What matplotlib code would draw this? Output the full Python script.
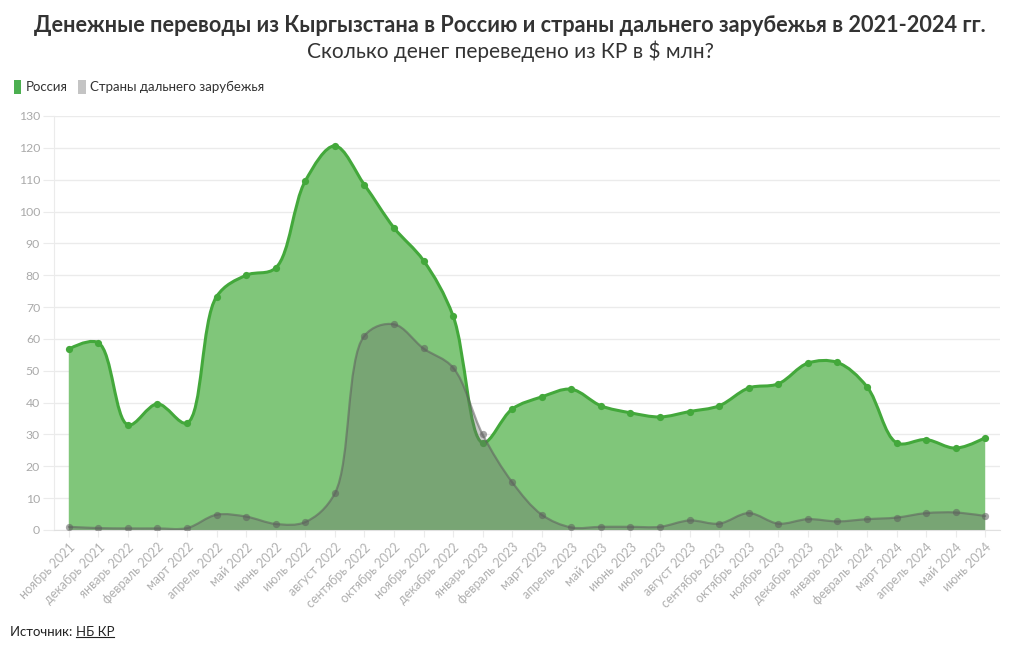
import numpy as np
import matplotlib.pyplot as plt
from matplotlib.path import Path
from matplotlib.patches import PathPatch, Patch
from matplotlib.lines import Line2D

plt.rcParams['font.family'] = ['Lato', 'DejaVu Sans']

# данные
months = ['ноябрь 2021', 'декабрь 2021', 'январь 2022', 'февраль 2022', 'март 2022',
          'апрель 2022', 'май 2022', 'июнь 2022', 'июль 2022', 'август 2022',
          'сентябрь 2022', 'октябрь 2022', 'ноябрь 2022', 'декабрь 2022', 'январь 2023',
          'февраль 2023', 'март 2023', 'апрель 2023', 'май 2023', 'июнь 2023',
          'июль 2023', 'август 2023', 'сентябрь 2023', 'октябрь 2023', 'ноябрь 2023',
          'декабрь 2023', 'январь 2024', 'февраль 2024', 'март 2024', 'апрель 2024',
          'май 2024', 'июнь 2024']
russia = [56.8, 58.8, 33.0, 39.6, 33.6, 73.3, 80.0, 82.3, 109.6, 120.6,
          108.4, 94.9, 84.6, 67.2, 27.4, 38.0, 41.8, 44.2, 39.0, 36.8,
          35.5, 37.2, 39.0, 44.6, 45.9, 52.4, 52.6, 45.0, 27.4, 28.4,
          25.7, 29.0]
far_abroad = [1.0, 0.6, 0.5, 0.5, 0.6, 4.8, 4.2, 1.9, 2.5, 11.5,
              61.0, 64.6, 57.0, 51.0, 30.0, 15.0, 4.8, 0.8, 1.0, 1.0,
              1.0, 3.0, 2.0, 5.3, 2.0, 3.4, 2.7, 3.4, 3.9, 5.3,
              5.5, 4.4]


def spline_verts(ax, xs, ys, smoothness=1.0):
    # сглаживание как у plotly (spline), считается в пикселях
    pts = ax.transData.transform(np.column_stack([xs, ys]))
    n = len(pts)
    tangents = []
    for i in range(1, n - 1):
        d1 = pts[i - 1] - pts[i]
        d2 = pts[i + 1] - pts[i]
        d1a = np.hypot(*d1) ** 0.5
        d2a = np.hypot(*d2) ** 0.5
        num = (d2a ** 2 * d1 - d1a ** 2 * d2) * smoothness
        den1 = 3 * d2a * (d1a + d2a)
        den2 = 3 * d1a * (d1a + d2a)
        tangents.append((pts[i] + num / den1, pts[i] - num / den2))
    verts = [pts[0], tangents[0][0], pts[1]]
    codes = [Path.MOVETO, Path.CURVE3, Path.CURVE3]
    for i in range(2, n - 1):
        verts += [tangents[i - 2][1], tangents[i - 1][0], pts[i]]
        codes += [Path.CURVE4] * 3
    verts += [tangents[n - 3][1], pts[-1]]
    codes += [Path.CURVE3] * 2
    verts = ax.transData.inverted().transform(np.array(verts))
    return list(map(tuple, verts)), codes


def draw_area(ax, xs, ys, line_color, fill_color, fill_alpha, line_alpha, lw, z):
    verts, codes = spline_verts(ax, xs, ys)
    fill_verts = verts + [(xs[-1], 0), (xs[0], 0), (xs[0], 0)]
    fill_codes = codes + [Path.LINETO, Path.LINETO, Path.CLOSEPOLY]
    ax.add_patch(PathPatch(Path(fill_verts, fill_codes), facecolor=fill_color,
                           alpha=fill_alpha, edgecolor='none', zorder=z))
    ax.add_patch(PathPatch(Path(verts, codes), facecolor='none', edgecolor=line_color,
                           alpha=line_alpha, lw=lw, zorder=z + 0.1,
                           capstyle='round', joinstyle='round'))
    ax.plot(xs, ys, 'o', color=line_color, alpha=line_alpha, ms=5.2,
            mec='none', zorder=z + 0.2)


fig = plt.figure(figsize=(10.2, 6.5), dpi=100)
ax = fig.add_axes([54 / 1020, 120 / 650, 946 / 1020, 414 / 650])
x = np.arange(len(months))
ax.set_xlim(-0.5, len(months) - 0.5)
ax.set_ylim(0, 130)

draw_area(ax, x, russia, '#43a83b', '#80c67a', 1.0, 1.0, 2.2, 2)
draw_area(ax, x, far_abroad, '#5e5e5e', '#6b6b6b', 0.36, 0.55, 1.6, 3)

# оси и сетка
ax.set_yticks(np.arange(0, 131, 10))
ax.grid(axis='y', color='#ebebeb', lw=1)
ax.set_axisbelow(True)
for s in ['top', 'right']:
    ax.spines[s].set_visible(False)
ax.spines['left'].set_color('#ebebeb')
ax.spines['bottom'].set_color('#e0e0e0')
ax.tick_params(axis='y', length=8, color='#ebebeb', labelcolor='#aaaaaa',
               labelsize=8.8, pad=2)
ax.tick_params(axis='x', length=5, color='#ebebeb', labelcolor='#b0b0b0',
               labelsize=9.0, pad=3)
ax.set_xticks(x)
ax.set_xticklabels(months, rotation=45, ha='right', va='top', rotation_mode='anchor')

# заголовки
fig.text(0.5, 1 - 25 / 650, 'Денежные переводы из Кыргызстана в Россию и страны дальнего зарубежья в 2021-2024 гг.',
         ha='center', va='center', fontsize=15.6, fontweight='bold', color='#333333')
fig.text(0.5, 1 - 51 / 650, 'Сколько денег переведено из КР в $ млн?',
         ha='center', va='center', fontsize=15, color='#333333')

handles = [Patch(facecolor='#4caf50', edgecolor='none'),
           Patch(facecolor='#c4c4c4', edgecolor='none')]
fig.legend(handles, ['Россия', 'Страны дальнего зарубежья'], loc='center left',
           bbox_to_anchor=(0.002, 1 - 87 / 650), ncol=2, frameon=False,
           fontsize=9.5, handlelength=0.55, handleheight=1.2, handletextpad=0.35,
           columnspacing=0.8, labelcolor='#333333')

# источник
t1 = fig.text(10 / 1020, 1 - 632 / 650, 'Источник: ', ha='left', va='center',
              fontsize=9.5, color='#222222')
renderer = fig.canvas.get_renderer()
bb = t1.get_window_extent(renderer)
t2 = fig.text(bb.x1 / 1020, 1 - 632 / 650, 'НБ КР', ha='left', va='center',
              fontsize=9.5, color='#222222')
bb2 = t2.get_window_extent(renderer)
fig.add_artist(Line2D([bb2.x0 / 1020, bb2.x1 / 1020], [(bb2.y0 + 1) / 650] * 2,
                      color='#222222', lw=0.8))

fig.savefig('out.png', dpi=100)
